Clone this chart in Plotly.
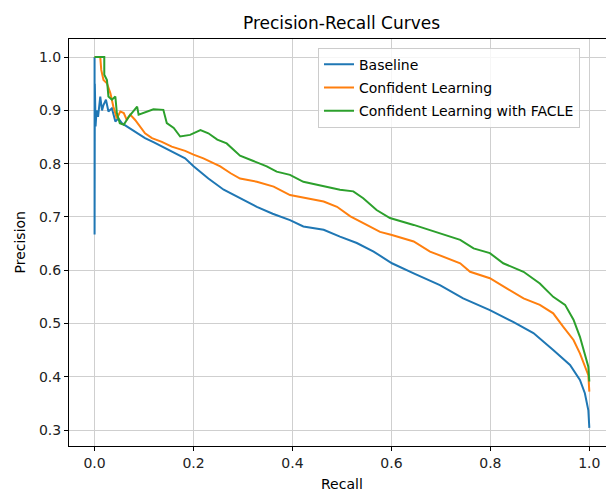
import plotly.graph_objects as go

# ---- data ----
baseline_recall = [0.0, 0.0, 0.0005, 0.002, 0.004, 0.007, 0.0115, 0.015, 0.018, 0.023, 0.028, 0.035, 0.042,
                   0.048, 0.055, 0.065, 0.076, 0.09, 0.102, 0.12, 0.136, 0.16, 0.183, 0.2, 0.23, 0.261,
                   0.295, 0.328, 0.36, 0.395, 0.422, 0.463, 0.496, 0.530, 0.564, 0.601, 0.645, 0.698,
                   0.745, 0.799, 0.846, 0.887, 0.927, 0.961, 0.981, 0.991, 0.998, 1.0]
baseline_precision = [1.0, 0.667, 0.95, 0.87, 0.90, 0.888, 0.926, 0.90, 0.91, 0.92, 0.898, 0.904, 0.879,
                      0.885, 0.876, 0.870, 0.863, 0.855, 0.848, 0.84, 0.832, 0.82, 0.81, 0.795, 0.772, 0.751,
                      0.735, 0.719, 0.706, 0.694, 0.682, 0.676, 0.663, 0.651, 0.635, 0.613, 0.594, 0.572,
                      0.547, 0.525, 0.503, 0.482, 0.450, 0.422, 0.394, 0.369, 0.337, 0.304]

cl_recall = [0.0, 0.0115, 0.0135, 0.018, 0.025, 0.032, 0.038, 0.045, 0.052, 0.059, 0.065, 0.072, 0.082,
             0.092, 0.102, 0.116, 0.136, 0.156, 0.183, 0.2, 0.220, 0.254, 0.275, 0.294, 0.328, 0.362,
             0.395, 0.429, 0.463, 0.490, 0.517, 0.550, 0.577, 0.601, 0.645, 0.678, 0.712, 0.739, 0.759,
             0.799, 0.833, 0.867, 0.900, 0.927, 0.947, 0.968, 0.981, 0.991, 0.998, 1.0]
cl_precision = [1.0, 1.0, 0.976, 0.957, 0.951, 0.932, 0.907, 0.885, 0.898, 0.895, 0.882, 0.892, 0.882,
                0.870, 0.857, 0.848, 0.841, 0.832, 0.824, 0.817, 0.81, 0.795, 0.782, 0.772, 0.766, 0.757,
                0.741, 0.735, 0.729, 0.719, 0.701, 0.685, 0.672, 0.666, 0.654, 0.635, 0.622, 0.613, 0.597,
                0.585, 0.566, 0.547, 0.535, 0.519, 0.494, 0.469, 0.444, 0.422, 0.403, 0.372]

facle_recall = [0.0, 0.0196, 0.0196, 0.025, 0.028, 0.035, 0.042, 0.045, 0.051, 0.059, 0.069, 0.086, 0.089,
                0.106, 0.119, 0.139, 0.146, 0.160, 0.173, 0.193, 0.214, 0.230, 0.248, 0.267, 0.294, 0.321,
                0.348, 0.368, 0.395, 0.422, 0.463, 0.496, 0.523, 0.543, 0.570, 0.597, 0.645, 0.698, 0.739,
                0.766, 0.799, 0.826, 0.867, 0.900, 0.927, 0.951, 0.968, 0.981, 0.991, 0.998, 1.0]
facle_precision = [1.0, 1.0, 0.967, 0.957, 0.926, 0.920, 0.926, 0.895, 0.876, 0.873, 0.888, 0.907, 0.892,
                   0.898, 0.902, 0.901, 0.876, 0.867, 0.851, 0.854, 0.863, 0.857, 0.845, 0.838, 0.815, 0.805,
                   0.795, 0.785, 0.779, 0.766, 0.757, 0.751, 0.748, 0.735, 0.713, 0.698, 0.685, 0.669, 0.657,
                   0.641, 0.632, 0.613, 0.597, 0.575, 0.550, 0.535, 0.507, 0.475, 0.444, 0.419, 0.391]

series_names = ["Baseline", "Confident Learning", "Confident Learning with FACLE"]
series_colors = ["#1f77b4", "#ff7f0e", "#2ca02c"]
x_ticks = [0.0, 0.2, 0.4, 0.6, 0.8, 1.0]
y_ticks = [0.3, 0.4, 0.5, 0.6, 0.7, 0.8, 0.9, 1.0]

FONT = "DejaVu Sans"
fig = go.Figure()
for name, color, xs, ys in zip(series_names, series_colors,
                               [baseline_recall, cl_recall, facle_recall],
                               [baseline_precision, cl_precision, facle_precision]):
    fig.add_trace(go.Scatter(x=xs, y=ys, mode="lines", name=name, legendgroup=name,
                             line=dict(color=color, width=2)))

W, H = 606, 491
L, T, B = 69, 39, 45
plot_h = H - T - B

fig.update_layout(
    width=W, height=H,
    margin=dict(l=L, r=0, t=T, b=B, pad=0),
    paper_bgcolor="white", plot_bgcolor="white",
    font=dict(family=FONT, size=14, color="#000000"),
    title=dict(text="Precision-Recall Curves", font=dict(family=FONT, size=17, color="#000000"),
               x=341.5 / W, xanchor="center", xref="container",
               y=1 - 23 / H, yanchor="middle", yref="container"),
    showlegend=True,
    legend=dict(x=(318 - L) / (W - L), xanchor="left", y=(H - B - 47.7) / plot_h, yanchor="top",
                bgcolor="rgba(255,255,255,0.8)", bordercolor="#cccccc", borderwidth=1,
                font=dict(family=FONT, size=14, color="#000000"),
                traceorder="grouped", tracegroupgap=2),
    xaxis=dict(range=[-0.0517, 1.0337], tickvals=x_ticks, ticktext=[f"{v:.1f}" for v in x_ticks],
               showgrid=True, gridcolor="#cfcfcf", gridwidth=1, zeroline=False,
               showline=True, linecolor="#000000", linewidth=1, mirror=True,
               ticks="outside", ticklen=4, tickcolor="#000000", tickwidth=1,
               tickfont=dict(family=FONT, size=14, color="#222222")),
    yaxis=dict(range=[0.27, 1.034], tickvals=y_ticks, ticktext=[f"{v:.1f}" for v in y_ticks],
               showgrid=True, gridcolor="#cfcfcf", gridwidth=1, zeroline=False,
               showline=True, linecolor="#000000", linewidth=1, mirror=False,
               ticks="outside", ticklen=4, tickcolor="#000000", tickwidth=1,
               tickfont=dict(family=FONT, size=14, color="#222222")),
)

fig.add_annotation(text="Recall", xref="x", x=0.5, yref="paper", y=0, yshift=-38,
                   xanchor="center", yanchor="middle", showarrow=False,
                   font=dict(family=FONT, size=14, color="#000000"))
fig.add_annotation(text="Precision", xref="paper", x=0, xshift=-50, yref="paper", y=0.5,
                   xanchor="center", yanchor="middle", textangle=-90, showarrow=False,
                   font=dict(family=FONT, size=14, color="#000000"))

fig.write_html("out.html", config={"displayModeBar": False},
               post_script="document.body.style.margin='0';document.body.style.overflow='hidden';")
